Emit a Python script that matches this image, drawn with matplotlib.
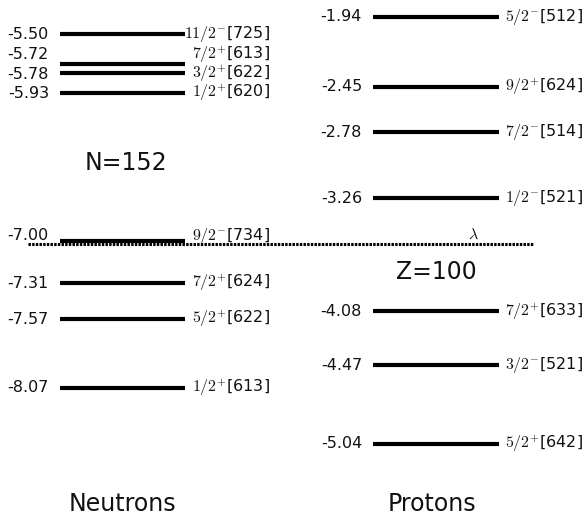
import matplotlib
matplotlib.use('Agg')
import matplotlib.pyplot as plt

plt.rcParams['font.family'] = ['DejaVu Sans']
plt.rcParams['mathtext.fontset'] = 'cm'

# single-particle levels (MeV)
neutron_energies = [-5.50, -5.72, -5.78, -5.93, -7.00, -7.31, -7.57, -8.07]
neutron_labels = [r'$11/2^{-}$[725]', r'$7/2^{+}$[613]', r'$3/2^{+}$[622]',
                  r'$1/2^{+}$[620]', r'$9/2^{-}$[734]', r'$7/2^{+}$[624]',
                  r'$5/2^{+}$[622]', r'$1/2^{+}$[613]']
proton_energies = [-1.94, -2.45, -2.78, -3.26, -4.08, -4.47, -5.04]
proton_labels = [r'$5/2^{-}$[512]', r'$9/2^{+}$[624]', r'$7/2^{-}$[514]',
                 r'$1/2^{-}$[521]', r'$7/2^{+}$[633]', r'$3/2^{-}$[521]',
                 r'$5/2^{+}$[642]']
fermi_neutron = -7.025

# small vertical nudges for crowded text (MeV)
neutron_text_shift = {1: 0.068, 2: -0.012, 4: 0.036}

txt_color = '#111111'
fs = 11.5

fig = plt.figure(figsize=(5.87, 5.16), dpi=100)
ax = fig.add_axes([0, 0, 1, 1])
ax.set_xlim(0, 587)
ax.set_ylim(-9.0, -5.253)
ax.axis('off')

axp = ax.twinx()
axp.set_ylim(-5.566, -1.819)
axp.axis('off')

# neutrons
for i, (e, lab) in enumerate(zip(neutron_energies, neutron_labels)):
    ax.plot([60, 185], [e, e], color='black', lw=3.0, solid_capstyle='butt')
    ty = e + neutron_text_shift.get(i, 0.0)
    ax.text(49, ty, f'{e:.2f}', ha='right', va='center', fontsize=fs, color=txt_color)
    ax.text(270, ty, lab, ha='right', va='center', fontsize=fs, color=txt_color)

# protons
for e, lab in zip(proton_energies, proton_labels):
    axp.plot([373, 499], [e, e], color='black', lw=3.0, solid_capstyle='butt')
    axp.text(362, e, f'{e:.2f}', ha='right', va='center', fontsize=fs, color=txt_color)
    axp.text(583, e, lab, ha='right', va='center', fontsize=fs, color=txt_color)

# Fermi level
ax.plot([28, 533], [fermi_neutron, fermi_neutron], color='black', lw=2.2,
        linestyle=(0, (0.8, 0.4)))
ax.text(473, fermi_neutron + 0.015, r'$\lambda$', ha='center', va='bottom',
        fontsize=fs, color=txt_color)

ax.text(126, -5.5 - (163 - 34) / 137.7, 'N=152', ha='center', va='center',
        fontsize=17, color=txt_color)
ax.text(436, -5.5 - (272 - 34) / 137.7, 'Z=100', ha='center', va='center',
        fontsize=17, color=txt_color)
ax.text(122, -5.5 - (504 - 34) / 137.7, 'Neutrons', ha='center', va='center',
        fontsize=17, color=txt_color)
ax.text(432, -5.5 - (504 - 34) / 137.7, 'Protons', ha='center', va='center',
        fontsize=17, color=txt_color)

fig.savefig('out.png', dpi=100)
